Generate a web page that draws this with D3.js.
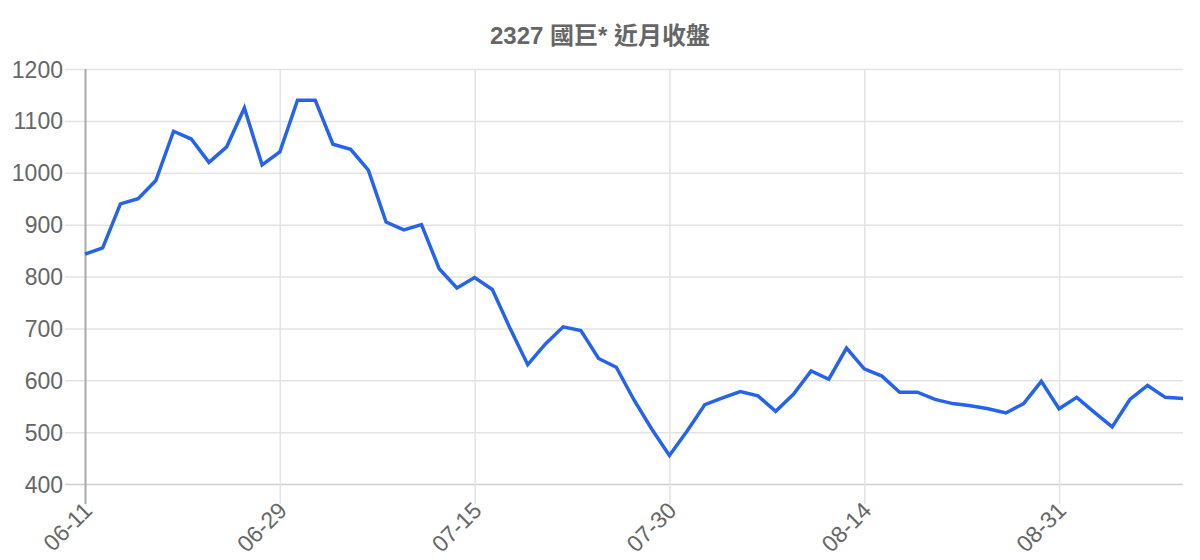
<!DOCTYPE html>
<html>
<head>
<meta charset="utf-8">
<script src="https://cdn.jsdelivr.net/npm/d3@7"></script>
<style>
  body { margin: 0; background: #fff; }
  text { font-family: "Liberation Sans", Arial, "Noto Sans CJK TC", sans-serif; }
</style>
</head>
<body>
<div id="chart"></div>
<script>
var title = "2327 國巨* 近月收盤";

var dates = ["06-11","06-15","06-16","06-17","06-18","06-21","06-22","06-23","06-24","06-25",
             "06-28","06-29","06-30","07-01","07-02","07-05","07-06","07-07","07-08","07-09",
             "07-12","07-13","07-15","07-16","07-19","07-20","07-21","07-22","07-23","07-26",
             "07-27","07-28","07-29","07-30","08-02","08-03","08-04","08-05","08-06","08-07",
             "08-08","08-09","08-10","08-13","08-14","08-15","08-16","08-17","08-20","08-21",
             "08-22","08-23","08-24","08-27","08-28","08-31","09-03","09-04","09-05","09-06",
             "09-07","09-10","09-11"];

var closes = [843, 855, 940, 950, 985, 1080, 1065, 1020, 1050, 1125,
              1015, 1040, 1140, 1140, 1055, 1045, 1005, 905, 890, 900,
              815, 778, 798, 775, 700, 630, 670, 703, 696, 642,
              625, 562, 506, 455, 502, 553, 566, 578, 570, 540,
              573, 618, 602, 662, 622, 608, 577, 577, 563, 555,
              551, 545, 537, 555, 598, 545, 567, 538, 510, 563,
              590, 567, 565];

var shownTicks = ["06-11", "06-29", "07-15", "07-30", "08-14", "08-31"];
var yTicks = [400, 500, 600, 700, 800, 900, 1000, 1100, 1200];

var width = 1200, height = 560;
var margin = {top: 69, right: 17, bottom: 76, left: 85};

var svg = d3.select("#chart")
            .append("svg")
            .attr("width", width)
            .attr("height", height);

var x = d3.scalePoint()
          .domain(dates)
          .range([margin.left, width - margin.right]);

var y = d3.scaleLinear()
          .domain([400, 1200])
          .range([height - margin.bottom, margin.top]);

// horizontal grid + y ticks
var yAxis = svg.append("g")
               .attr("transform", "translate(" + margin.left + ",0)")
               .call(d3.axisLeft(y)
                       .tickValues(yTicks)
                       .tickFormat(d3.format("d"))
                       .tickSizeInner(-(width - margin.left - margin.right))
                       .tickSizeOuter(0)
                       .tickPadding(0));
yAxis.select(".domain").remove();
yAxis.selectAll(".tick line")
     .attr("x1", -20)
     .attr("stroke", function(d){ return d === 400 ? "#cfcfcf" : "#e3e3e3"; })
     .attr("stroke-width", 1.5);
yAxis.selectAll(".tick text")
     .attr("x", -22)
     .attr("dy", "0.35em")
     .attr("fill", "#666")
     .attr("font-size", "23px");

// vertical grid + x ticks
var xAxis = svg.append("g")
               .attr("transform", "translate(0," + (height - margin.bottom) + ")")
               .call(d3.axisBottom(x)
                       .tickValues(shownTicks)
                       .tickSizeInner(-(height - margin.top - margin.bottom))
                       .tickSizeOuter(0));
xAxis.select(".domain").remove();
xAxis.selectAll(".tick line")
     .attr("y1", 20)
     .attr("stroke", function(d){ return d === "06-11" ? "#aaaaaa" : "#e3e3e3"; })
     .attr("stroke-width", function(d){ return d === "06-11" ? 2 : 1.5; });
xAxis.selectAll(".tick text")
     .attr("fill", "#666")
     .attr("font-size", "23px")
     .attr("text-anchor", "end")
     .attr("x", 0)
     .attr("y", 0)
     .attr("dy", 0)
     .attr("transform", "translate(8,28) rotate(-45)");

// title
svg.append("text")
   .attr("x", 600)
   .attr("y", 44)
   .attr("text-anchor", "middle")
   .attr("font-size", "24px")
   .attr("font-weight", "bold")
   .attr("fill", "#666")
   .text(title);

// close line
var line = d3.line()
             .x(function(d, i){ return x(dates[i]); })
             .y(function(d){ return y(d); });

svg.append("path")
   .datum(closes)
   .attr("d", line)
   .attr("fill", "none")
   .attr("stroke", "#2563eb")
   .attr("stroke-width", 3.5)
   .attr("stroke-linejoin", "miter");
</script>
</body>
</html>
